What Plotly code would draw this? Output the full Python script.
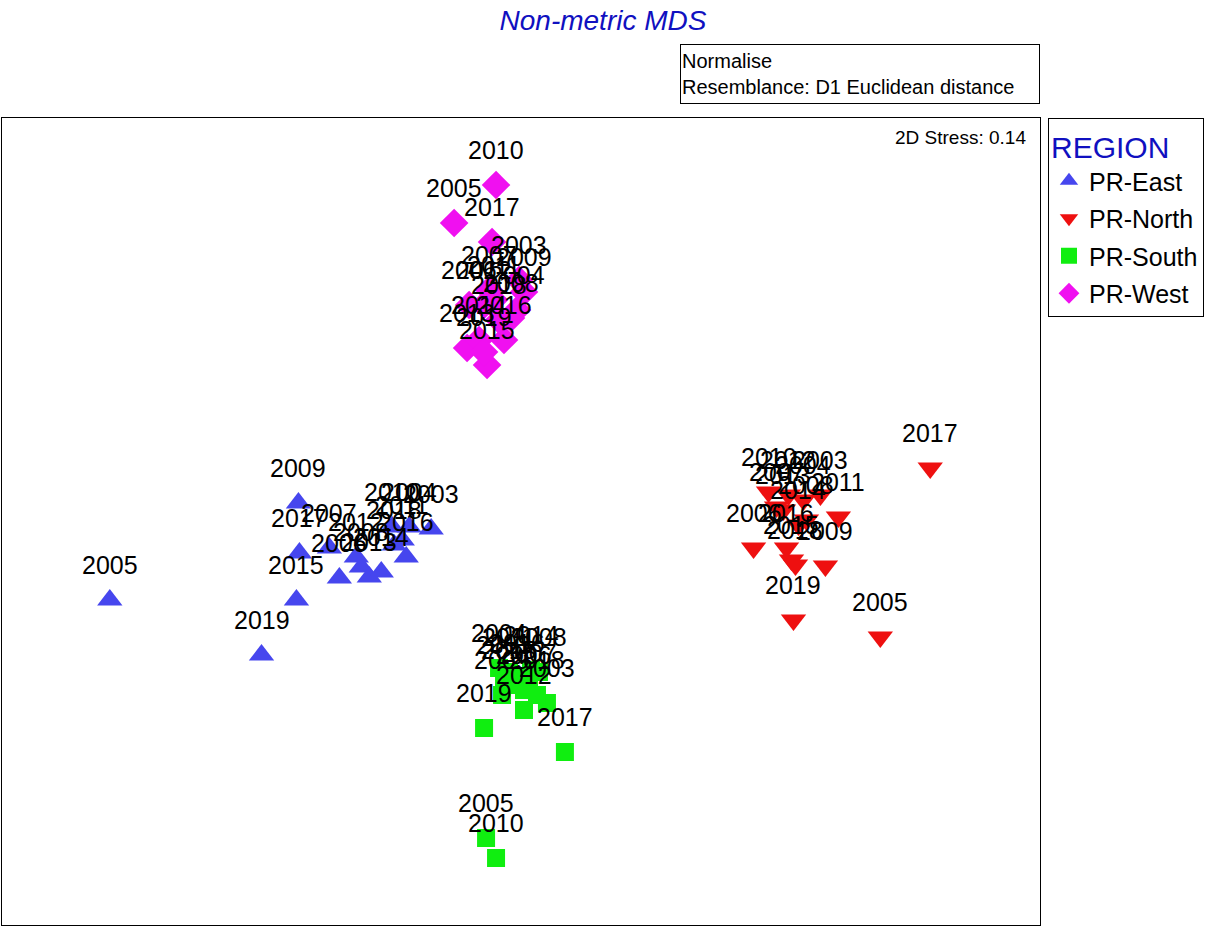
import plotly.graph_objects as go

# Años de cada muestra (igual para todas las regiones)
anos = [str(a) for a in range(2003, 2020)]

# Coordenadas nMDS por región
east_x = [-0.88, -1.10, -4.10, -1.80, -1.90, -1.58, -2.21, -1.27, -1.17, -1.63, -1.50, -1.38, -2.23, -1.13, -2.20, -1.25, -2.58]
east_y = [-0.09, -0.07, -0.80, -0.58, -0.28, -0.47, 0.17, -0.07, -0.20, -0.37, -0.57, -0.52, -0.80, -0.37, -0.33, -0.25, -1.35]

north_x = [3.02, 2.85, 3.62, 2.35, 2.58, 2.88, 3.07, 2.50, 3.20, 2.70, 2.65, 2.80, 2.73, 2.68, 4.12, 2.77, 2.75]
north_y = [0.25, 0.20, -1.17, -0.28, 0.13, 0.00, -0.46, 0.28, 0.03, 0.25, 0.10, -0.05, -0.40, -0.28, 0.52, -0.45, -1.00]

south_x = [0.28, -0.20, -0.33, 0.05, 0.10, 0.20, -0.17, -0.23, -0.10, 0.05, -0.15, 0.12, -0.10, -0.02, 0.46, 0.18, -0.35]
south_y = [-1.83, -1.48, -3.18, -1.70, -1.68, -1.52, -1.75, -3.38, -1.52, -1.90, -1.60, -1.50, -1.65, -1.58, -2.32, -1.75, -2.08]

west_x = [0.00, -0.02, -0.65, -0.50, -0.30, -0.08, 0.05, -0.23, -0.25, -0.35, -0.52, -0.40, -0.32, -0.15, -0.27, -0.20, -0.35]
west_y = [2.40, 2.10, 2.97, 2.15, 2.30, 2.02, 2.28, 3.35, 2.20, 2.15, 1.72, 1.80, 1.55, 1.80, 2.78, 2.00, 1.68]

regiones = ["PR-East", "PR-North", "PR-South", "PR-West"]
colores = ["#4646EE", "#EE1010", "#10EE10", "#F010F0"]
simbolos = ["triangle-up", "triangle-down", "square", "diamond"]
tamanos = [22, 22, 18, 22]

datos = [(east_x, east_y), (north_x, north_y), (south_x, south_y), (west_x, west_y)]

fig = go.Figure()
etiquetas = []
for i, (xs, ys) in enumerate(datos):
    fig.add_trace(go.Scatter(
        x=xs, y=ys, mode="markers", name=regiones[i],
        legendgroup=regiones[i],
        marker=dict(symbol=simbolos[i], color=colores[i], size=tamanos[i], line=dict(width=0)),
    ))
    # etiqueta con el año encima de cada punto
    for x, y, a in zip(xs, ys, anos):
        etiquetas.append(dict(
            x=x, y=y, text=a, showarrow=False, yshift=35,
            font=dict(size=25, color="black", family="Liberation Sans"),
        ))

# Cuadro de cabecera y stress
etiquetas.append(dict(
    xref="paper", yref="paper", x=1.0, y=1.0917, xanchor="right", yanchor="top",
    text="Normalise<br>Resemblance: D1 Euclidean distance", align="left", showarrow=False,
    width=356, height=56, bordercolor="black", borderwidth=1, borderpad=1,
    font=dict(size=20, color="black", family="Liberation Sans"),
))
etiquetas.append(dict(
    xref="paper", yref="paper", x=0.988, y=0.976, xanchor="right", yanchor="middle",
    text="2D Stress: 0.14", showarrow=False,
    font=dict(size=19, color="black", family="Liberation Sans"),
))

ejes = dict(showgrid=False, zeroline=False, showticklabels=False, ticks="",
            showline=True, mirror=True, linecolor="black", linewidth=1)

fig.update_layout(
    width=1206, height=930,
    paper_bgcolor="white", plot_bgcolor="white",
    margin=dict(l=2, r=164, t=118, b=5),
    title=dict(text="<i>Non-metric MDS</i>", x=0.5, xref="container", y=0.978, yanchor="middle",
               font=dict(size=28, color="#1010C0", family="Liberation Sans")),
    xaxis=dict(range=[-5.18, 5.22], **ejes),
    yaxis=dict(range=[-4.05, 4.02], **ejes),
    annotations=etiquetas,
    legend=dict(
        title=dict(text="REGION", font=dict(size=30, color="#1010C0")),
        x=1.0077, xanchor="left", y=1.0, yanchor="top",
        bordercolor="black", borderwidth=1, bgcolor="white",
        font=dict(size=25, color="black", family="Liberation Sans"),
        tracegroupgap=2, itemwidth=30,
    ),
    font=dict(family="Liberation Sans"),
)

# quitar el margen por defecto de la página para que la figura quepa entera
fig.write_html("out.html", config={"displayModeBar": False},
               post_script="document.body.style.margin='0px';")
